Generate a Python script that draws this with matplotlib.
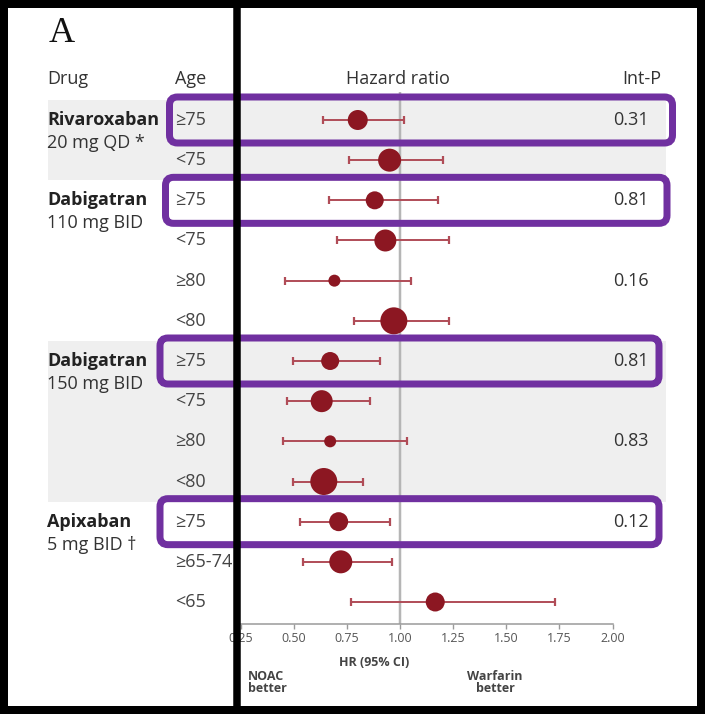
"""
Forest plot: NOAC vs warfarin hazard ratios by age subgroup
"""

import matplotlib.pyplot as plt
import matplotlib.transforms as mtransforms
from matplotlib.patches import Rectangle, FancyBboxPatch

plt.rcParams['font.family'] = ['Open Sans', 'DejaVu Sans']

# ---- data ----
drugs = ["Rivaroxaban", "Dabigatran", "Dabigatran", "Apixaban"]
doses = ["20 mg QD *", "110 mg BID", "150 mg BID", "5 mg BID \u2020"]
drug_rows = [0, 2, 6, 10]

age_groups = ["\u226575", "<75",
              "\u226575", "<75", "\u226580", "<80",
              "\u226575", "<75", "\u226580", "<80",
              "\u226575", "\u226565-74", "<65"]
hr = [0.80, 0.95, 0.88, 0.93, 0.69, 0.97, 0.67, 0.63, 0.67, 0.64, 0.71, 0.72, 1.165]
ci_low = [0.634, 0.76, 0.665, 0.70, 0.455, 0.78, 0.495, 0.467, 0.446, 0.495, 0.53, 0.54, 0.77]
ci_high = [1.02, 1.20, 1.18, 1.23, 1.05, 1.23, 0.905, 0.86, 1.03, 0.825, 0.95, 0.96, 1.73]
weights = [20, 23, 18, 22, 12, 27, 18, 22, 12, 27, 19, 23, 19]  # marker diameter, px

int_p = ["0.31", "0.81", "0.16", "0.81", "0.83", "0.12"]
int_p_rows = [0, 2, 4, 6, 8, 10]

shaded_groups = [(0, 1), (6, 9)]
highlight_rows = [0, 2, 6, 10]
highlight_x = [(169.5, 672.5), (165.5, 667), (160, 659), (160, 659)]

x_ticks = [0.25, 0.50, 0.75, 1.00, 1.25, 1.50, 1.75, 2.00]

RED = '#8c1722'
CI_RED = '#b04c57'
PURPLE = '#7030a0'
TXT = '#333333'
W, H = 705, 714
PX = 72 / 100  # points per pixel at dpi 100
FS = 13

fig = plt.figure(figsize=(W / 100, H / 100), dpi=100)

# forest axes: 0.25 -> x 241 px, 2.00 -> 612.5 px, rows 0..12 at 120..602 px
ax = fig.add_axes([241 / W, (H - 624) / H, (612.5 - 241) / W, (624 - 92) / H])
ax.set_facecolor('none')
ax.set_xlim(0.25, 2.0)
ax.set_ylim(12 + 22 / 40.17, -28 / 40.17)

n = len(hr)
rows = list(range(n))

# reference line
ax.axvline(1.0, color='#b5b5b5', lw=2.5 * PX, zorder=1)

for r in rows:
    ax.errorbar(hr[r], r, xerr=[[hr[r] - ci_low[r]], [ci_high[r] - hr[r]]],
                fmt='none', ecolor=CI_RED, elinewidth=1.4, capsize=2.8,
                capthick=1.6, zorder=2)
ax.scatter(hr, rows, s=[(d * PX) ** 2 for d in weights], color=RED,
           edgecolors='none', zorder=3)

# axis styling
for side in ['top', 'right', 'left']:
    ax.spines[side].set_visible(False)
ax.spines['bottom'].set_color('#9a9a9a')
ax.spines['bottom'].set_linewidth(1.1)
ax.set_yticks([])
ax.set_xticks(x_ticks)
ax.set_xticklabels([f"{t:.2f}" for t in x_ticks])
ax.tick_params(axis='x', direction='out', length=3.5, width=1, color='#9a9a9a',
               labelsize=9, labelcolor='#555555', pad=2.5)

# row-aligned texts: x in figure pixels, y in row units
fig_px = mtransforms.blended_transform_factory(
    mtransforms.Affine2D().scale(1 / W, 1) + fig.transFigure, ax.transData)

# shaded row groups
for r0, r1 in shaded_groups:
    ax.add_patch(Rectangle((48, r0 - 0.5), 666 - 48, r1 - r0 + 1,
                           transform=fig_px, facecolor='#efefef',
                           edgecolor='none', clip_on=False, zorder=0))

for name, dose, r in zip(drugs, doses, drug_rows):
    ax.text(47, r, name, transform=fig_px, fontsize=FS, fontweight='bold',
            color='#222222', va='center', ha='left')
    ax.text(47, r + 0.57, dose, transform=fig_px, fontsize=FS,
            color=TXT, va='center', ha='left')

for label, r in zip(age_groups, rows):
    ax.text(175, r, label, transform=fig_px, fontsize=FS, color='#444444',
            va='center', ha='left')

for p, r in zip(int_p, int_p_rows):
    ax.text(649, r, p, transform=fig_px, fontsize=FS, color=TXT,
            va='center', ha='right')

# header
hy = -1.02
ax.text(47, hy, "Drug", transform=fig_px, fontsize=FS, color=TXT, va='center')
ax.text(175, hy, "Age", transform=fig_px, fontsize=FS, color=TXT, va='center')
ax.text(398, hy, "Hazard ratio", transform=fig_px, fontsize=FS, color=TXT,
        va='center', ha='center')
ax.text(642, hy, "Int-P", transform=fig_px, fontsize=FS, color=TXT,
        va='center', ha='center')

# x axis captions (figure pixel coords, y from top)
def fy(y):
    return 1 - y / H

fig.text(374 / W, fy(662), "HR (95% CI)", fontsize=9, fontweight='bold',
         color='#444444', ha='center', va='center')
fig.text(248 / W, fy(683), "NOAC\nbetter", fontsize=9, fontweight='bold',
         color='#444444', ha='left', va='center', linespacing=0.9)
fig.text(495 / W, fy(683), "Warfarin\nbetter", fontsize=9, fontweight='bold',
         color='#444444', ha='center', va='center', linespacing=0.9)
fig.text(49 / W, fy(33), "A", fontsize=26, family='Liberation Serif',
         color='#111111', ha='left', va='center')

# overlay: black frame, divider and purple highlight boxes
ov = fig.add_axes([0, 0, 1, 1], zorder=5)
ov.set_facecolor('none')
ov.set_xlim(0, W)
ov.set_ylim(H, 0)
ov.axis('off')

ov.add_patch(Rectangle((4, 4), W - 8, H - 8, fill=False, edgecolor='black',
                       lw=8 * PX))
ov.plot([237, 237], [0, H], color='black', lw=7.5 * PX, solid_capstyle='butt')

for r, (x0, x1) in zip(highlight_rows, highlight_x):
    yc = H - ax.transData.transform((1.0, r))[1]
    ov.add_patch(FancyBboxPatch((x0, yc - 23), x1 - x0, 46,
                                boxstyle="round,pad=0,rounding_size=8",
                                fill=False, edgecolor=PURPLE, lw=7 * PX))

fig.savefig("out.png", dpi=100)
